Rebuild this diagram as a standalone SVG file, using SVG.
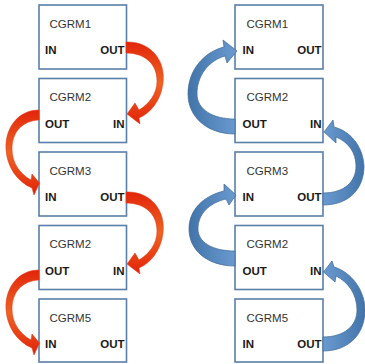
<svg xmlns="http://www.w3.org/2000/svg" width="365" height="364" viewBox="0 0 365 364">
<style>
.box{fill:#fff;stroke:#5a7fa8;stroke-width:1.6}
.lbl{font-family:"Liberation Sans",Arial,sans-serif;font-size:11.5px;fill:#333}
.port{font-family:"Liberation Sans",Arial,sans-serif;font-size:11.5px;font-weight:bold;fill:#1a1a1a}
.red{fill:url(#gRed);stroke:#e0300f;stroke-width:0.5}
.blueL{fill:url(#gBlueL);stroke:#3d6894;stroke-width:0.7}
.blueR{fill:url(#gBlueR);stroke:#3d6894;stroke-width:0.7}
</style>
<defs>
<linearGradient id="gRed" x1="0" y1="0" x2="0" y2="1">
<stop offset="0" stop-color="#e2250b"/>
<stop offset="0.5" stop-color="#ee6322"/>
<stop offset="1" stop-color="#e3220a"/>
</linearGradient>
<linearGradient id="gBlueL" x1="0" y1="0" x2="1" y2="0">
<stop offset="0" stop-color="#4274aa"/>
<stop offset="1" stop-color="#6a9ad0"/>
</linearGradient>
<linearGradient id="gBlueR" x1="1" y1="0" x2="0" y2="0">
<stop offset="0" stop-color="#4274aa"/>
<stop offset="1" stop-color="#6a9ad0"/>
</linearGradient>
</defs>
<rect width="365" height="364" fill="#fff"/>
<g id="L1"><rect class="box" x="39" y="5" width="87.5" height="64"/><text class="lbl" x="49.5" y="27.5">CGRM1</text><text class="port" x="45" y="54">IN</text><text class="port" x="124.5" y="54" text-anchor="end">OUT</text></g>
<g id="L2"><rect class="box" x="39" y="78.5" width="87.5" height="64"/><text class="lbl" x="49.5" y="101">CGRM2</text><text class="port" x="45" y="127.5">OUT</text><text class="port" x="124.5" y="127.5" text-anchor="end">IN</text></g>
<g id="L3"><rect class="box" x="39" y="152" width="87.5" height="64"/><text class="lbl" x="49.5" y="174.5">CGRM3</text><text class="port" x="45" y="201">IN</text><text class="port" x="124.5" y="201" text-anchor="end">OUT</text></g>
<g id="L4"><rect class="box" x="39" y="225.5" width="87.5" height="64"/><text class="lbl" x="49.5" y="248">CGRM2</text><text class="port" x="45" y="274.5">OUT</text><text class="port" x="124.5" y="274.5" text-anchor="end">IN</text></g>
<g id="L5"><rect class="box" x="39" y="299" width="87.5" height="63"/><text class="lbl" x="49.5" y="321.5">CGRM5</text><text class="port" x="45" y="348">IN</text><text class="port" x="124.5" y="348" text-anchor="end">OUT</text></g>
<g id="R1"><rect class="box" x="235" y="5" width="88" height="64"/><text class="lbl" x="246.5" y="27.5">CGRM1</text><text class="port" x="242.5" y="54">IN</text><text class="port" x="321.5" y="54" text-anchor="end">OUT</text></g>
<g id="R2"><rect class="box" x="235" y="78.5" width="88" height="64"/><text class="lbl" x="246.5" y="101">CGRM2</text><text class="port" x="242.5" y="127.5">OUT</text><text class="port" x="321.5" y="127.5" text-anchor="end">IN</text></g>
<g id="R3"><rect class="box" x="235" y="152" width="88" height="64"/><text class="lbl" x="246.5" y="174.5">CGRM3</text><text class="port" x="242.5" y="201">IN</text><text class="port" x="321.5" y="201" text-anchor="end">OUT</text></g>
<g id="R4"><rect class="box" x="235" y="225.5" width="88" height="64"/><text class="lbl" x="246.5" y="248">CGRM2</text><text class="port" x="242.5" y="274.5">OUT</text><text class="port" x="321.5" y="274.5" text-anchor="end">IN</text></g>
<g id="R5"><rect class="box" x="235" y="299" width="88" height="63"/><text class="lbl" x="246.5" y="321.5">CGRM5</text><text class="port" x="242.5" y="348">IN</text><text class="port" x="321.5" y="348" text-anchor="end">OUT</text></g>
<g id="connectors">
<path class="red" d="M126,42 C150,41 166,60 163,83 C161,100 151,113 139,118 L140,124 L127,114 L135,103 L139,110 C149,104 157,94 157,81 C157,64 145,53 126,53 Z"/>
<path class="red" transform="translate(0,150)" d="M126,42 C150,41 166,60 163,83 C161,100 151,113 139,118 L140,124 L127,114 L135,103 L139,110 C149,104 157,94 157,81 C157,64 145,53 126,53 Z"/>
<path class="red" d="M39,110 C18,110 5,128 6,149 C7,168 18,182 32,188 L34,195 L39.5,183 L32,174 L31,180 C20,174 12,163 12,149 C12,132 22,121 39,120 Z"/>
<path class="red" transform="translate(0,160)" d="M39,110 C18,110 5,128 6,149 C7,168 18,182 32,188 L34,195 L39.5,183 L32,174 L31,180 C20,174 12,163 12,149 C12,132 22,121 39,120 Z"/>
<path class="blueL" d="M235,134 C206,134 188,116 188,94 C188,70 204,52 224,47 L223,40 L237,51 L227,63 L225,56 C208,61 197,76 197,94 C197,109 212,119 235,119 Z"/>
<path class="blueL" d="M235,266 C207,266 189,250 189,229 C189,210 203,196 224,191 L224,184 L236,195 L229,205 L226,199 C209,203 198,214 198,229 C198,242 212,251 235,251 Z"/>
<path class="blueR" d="M323,205 C350,205 364,188 364,166 C363,146 350,131 334,127 L333,120 L324,132 L336,143 L336,137 C348,142 356,152 356,166 C356,182 344,193 323,193 Z"/>
<path class="blueR" d="M323,351 C350,351 365,333 365,310 C365,290 351,272 334,267 L332,261 L323.5,272 L335,282 L336,276 C348,282 357,294 357,310 C357,326 344,337 323,337 Z"/>
</g>
</svg>
